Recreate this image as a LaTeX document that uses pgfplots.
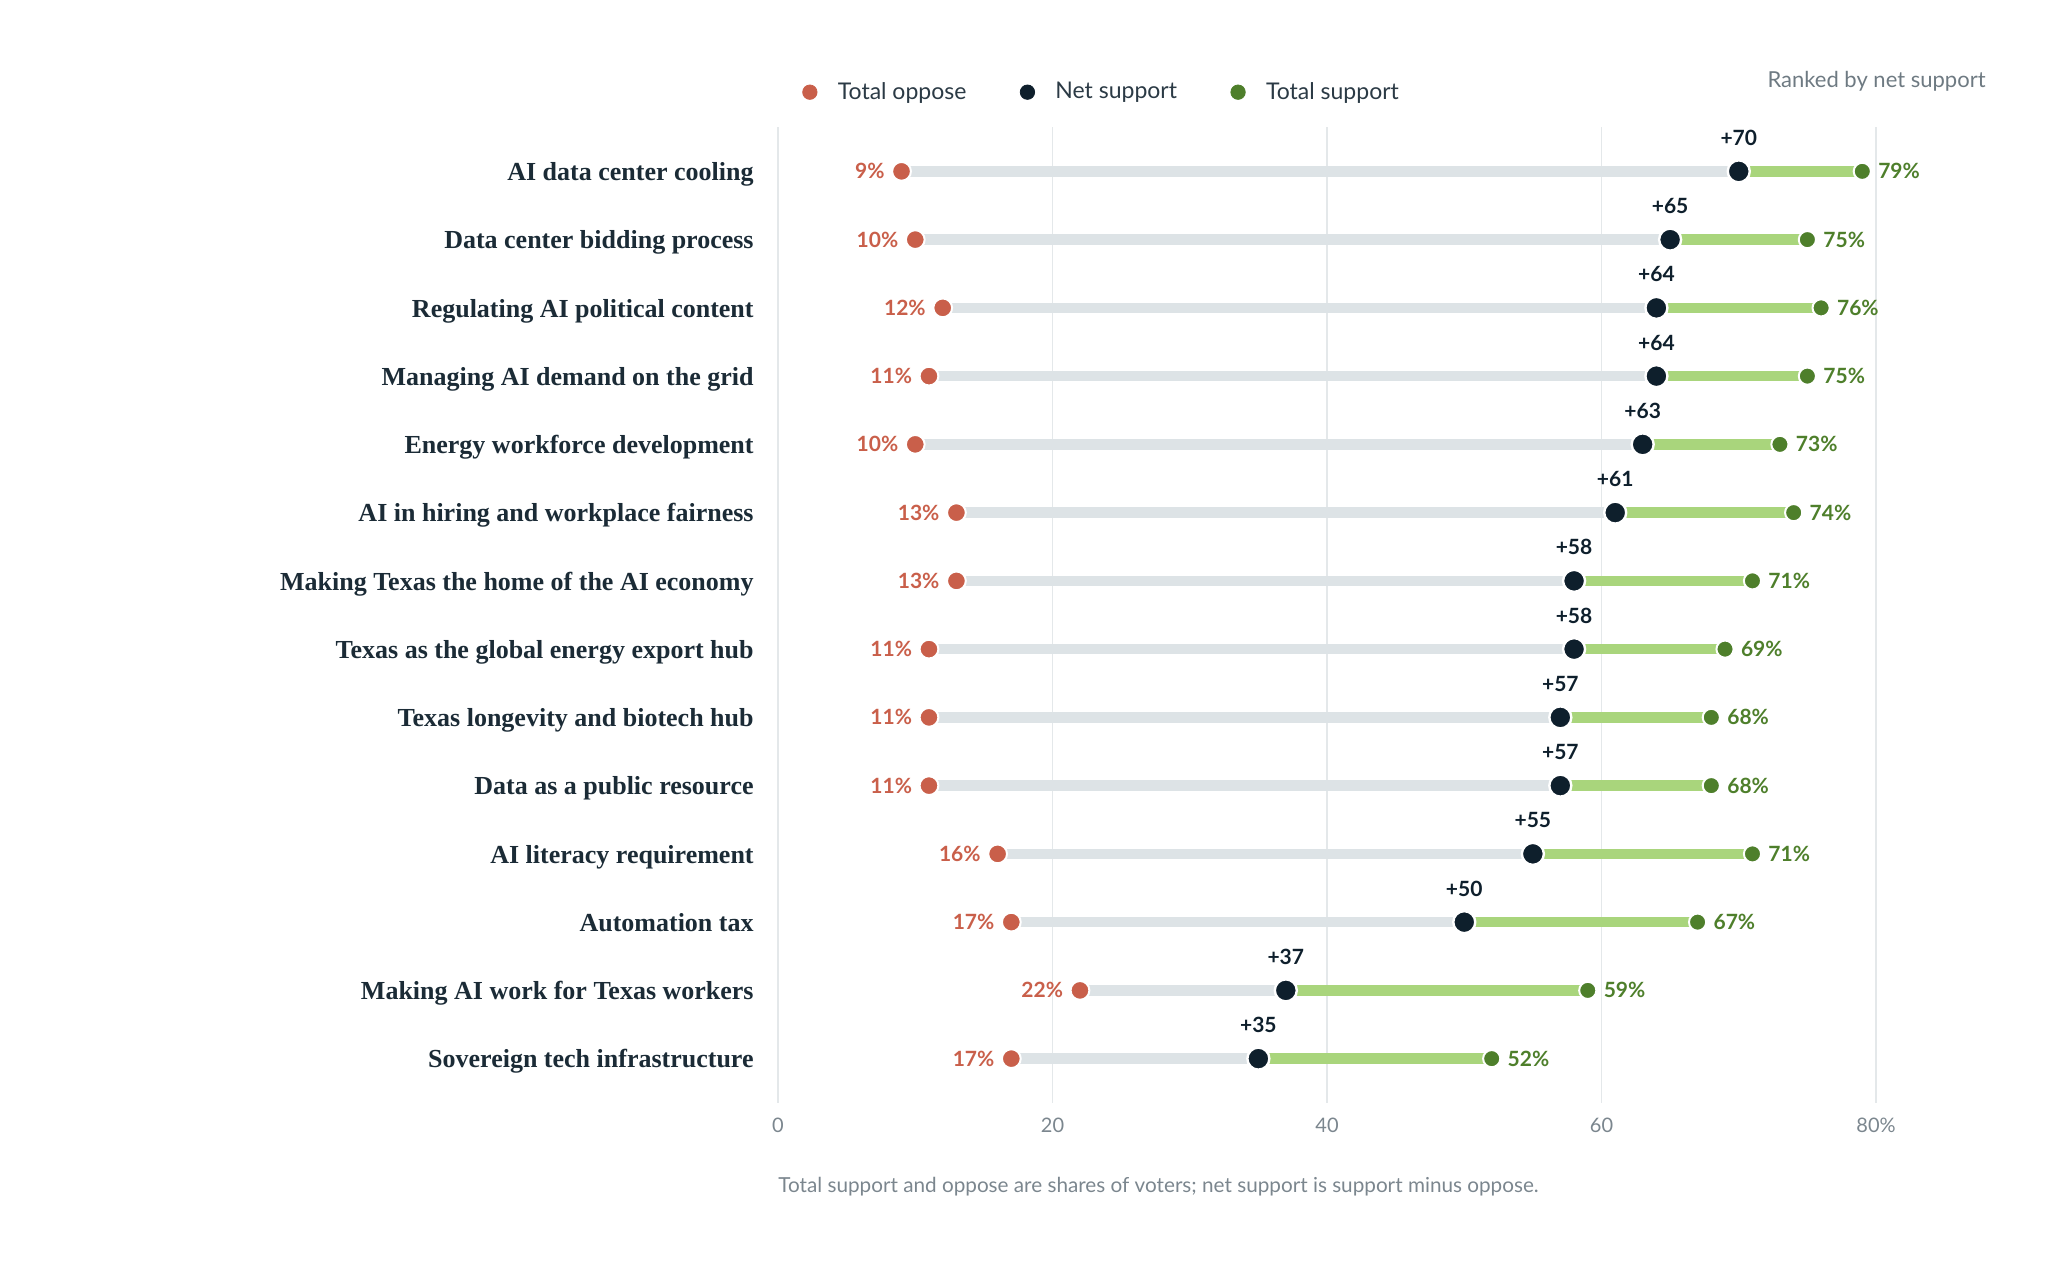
\documentclass[border=0pt]{standalone}
\usepackage{fontspec}
\setmainfont{Lato}
\newfontfamily\serifb{Liberation Serif}
\usepackage{pgfplots}
\usepackage{pgfplotstable}
\pgfplotsset{compat=1.18}
\definecolor{ored}{HTML}{C95F4A}
\definecolor{navy}{HTML}{0E1F2C}
\definecolor{sgreen}{HTML}{4E7F2B}
\definecolor{gbar}{HTML}{A9D57C}
\definecolor{greybar}{HTML}{DDE3E6}
\definecolor{gridc}{HTML}{E4E8EA}
\definecolor{ticktext}{HTML}{7B868E}
\definecolor{labeltext}{HTML}{1B2B36}
\definecolor{legtext}{HTML}{2B3A45}
\definecolor{ranktext}{HTML}{6E7A82}

\pgfplotstableread{
y o n s nl
13 9 70 79 +70
12 10 65 75 +65
11 12 64 76 +64
10 11 64 75 +64
9 10 63 73 +63
8 13 61 74 +61
7 13 58 71 +58
6 11 58 69 +58
5 11 57 68 +57
4 11 57 68 +57
3 16 55 71 +55
2 17 50 67 +50
1 22 37 59 +37
0 17 35 52 +35
}\data

\begin{document}
\begin{tikzpicture}
\path (0,0) rectangle (1024pt,635pt);
\begin{axis}[
  at={(389pt,83.5pt)}, anchor=south west,
  scale only axis, width=549pt, height=488pt,
  xmin=0, xmax=80, ymin=-0.65, ymax=13.65,
  clip=false,
  axis line style={draw=none},
  major tick length=0pt,
  xtick={0,20,40,60,80},
  xticklabels={0,20,40,60,80\%},
  xmajorgrids, grid style={draw=gridc, line width=0.75pt},
  xticklabel style={font=\fontsize{10}{12}\selectfont, text=ticktext, anchor=base, yshift=-14.8pt, inner sep=0pt},
  ytick={0,...,13},
  yticklabels={Sovereign tech infrastructure, Making AI work for Texas workers, Automation tax, AI literacy requirement, Data as a public resource, Texas longevity and biotech hub, Texas as the global energy export hub, Making Texas the home of the AI economy, AI in hiring and workplace fairness, Energy workforce development, Managing AI demand on the grid, Regulating AI political content, Data center bidding process, AI data center cooling},
  yticklabel style={font=\serifb\bfseries\fontsize{13}{14}\selectfont, text=labeltext, anchor=base east, inner sep=0pt, xshift=-12pt, yshift=-4.6pt},
  legend columns=3,
  legend style={at={(axis cs:1.71,14.16)}, anchor=west, draw=none, fill=none, inner sep=0pt,
    font=\fontsize{11.5}{13}\selectfont, text=legtext,
    /tikz/every even column/.append style={column sep=24.5pt}},
]
\addlegendimage{legend image code/.code={\path[draw=none] (0pt,0pt) -- (16pt,0pt); \fill[ored] (4pt,0pt) circle (3.6pt);}}
\addlegendentry{Total oppose}
\addlegendimage{legend image code/.code={\path[draw=none] (0pt,0pt) -- (16pt,0pt); \fill[navy] (4pt,0pt) circle (3.6pt);}}
\addlegendentry{Net support}
\addlegendimage{legend image code/.code={\path[draw=none] (0pt,0pt) -- (16pt,0pt); \fill[sgreen] (4pt,0pt) circle (3.6pt);}}
\addlegendentry{Total support}

% grey bars oppose -> net
\addplot[only marks, mark=none, forget plot,
  error bars/.cd, x dir=plus, x explicit, error mark=none,
  error bar style={draw=greybar, line width=5.25pt}]
  table[x=o, y=y, x error expr=\thisrow{n}-\thisrow{o}] {\data};
% green bars net -> support
\addplot[only marks, mark=none, forget plot,
  error bars/.cd, x dir=plus, x explicit, error mark=none,
  error bar style={draw=gbar, line width=5.25pt}]
  table[x=n, y=y, x error expr=\thisrow{s}-\thisrow{n}] {\data};
% oppose dots
\addplot[only marks, mark=*, mark size=4.7pt, forget plot,
  mark options={fill=ored, draw=white, line width=1pt},
  point meta=explicit symbolic,
  nodes near coords={\pgfplotspointmeta\%},
  nodes near coords style={anchor=base east, inner sep=0pt, xshift=-8pt, yshift=-3.8pt,
    font=\bfseries\fontsize{10.5}{12}\selectfont, text=ored}]
  table[x=o, y=y, meta=o] {\data};
% support dots
\addplot[only marks, mark=*, mark size=4.3pt, forget plot,
  mark options={fill=sgreen, draw=white, line width=1pt},
  point meta=explicit symbolic,
  nodes near coords={\pgfplotspointmeta\%},
  nodes near coords style={anchor=base west, inner sep=0pt, xshift=7.5pt, yshift=-3.8pt,
    font=\bfseries\fontsize{10.5}{12}\selectfont, text=sgreen}]
  table[x=s, y=y, meta=s] {\data};
% net dots
\addplot[only marks, mark=*, mark size=5.5pt, forget plot,
  mark options={fill=navy, draw=white, line width=1.2pt},
  point meta=explicit symbolic,
  nodes near coords={\pgfplotspointmeta},
  nodes near coords style={anchor=base, inner sep=0pt, yshift=13pt,
    font=\bfseries\fontsize{10.5}{12}\selectfont, text=navy}]
  table[x=n, y=y, meta=nl] {\data};
\end{axis}
\node[anchor=base east, inner sep=0pt, font=\fontsize{11}{13}\selectfont, text=ranktext] at (993pt,591pt) {Ranked by net support};
\node[anchor=base west, inner sep=0pt, font=\fontsize{10.35}{12}\selectfont, text=ticktext] at (389pt,39pt) {Total support and oppose are shares of voters; net support is support minus oppose.};
\end{tikzpicture}
\end{document}
